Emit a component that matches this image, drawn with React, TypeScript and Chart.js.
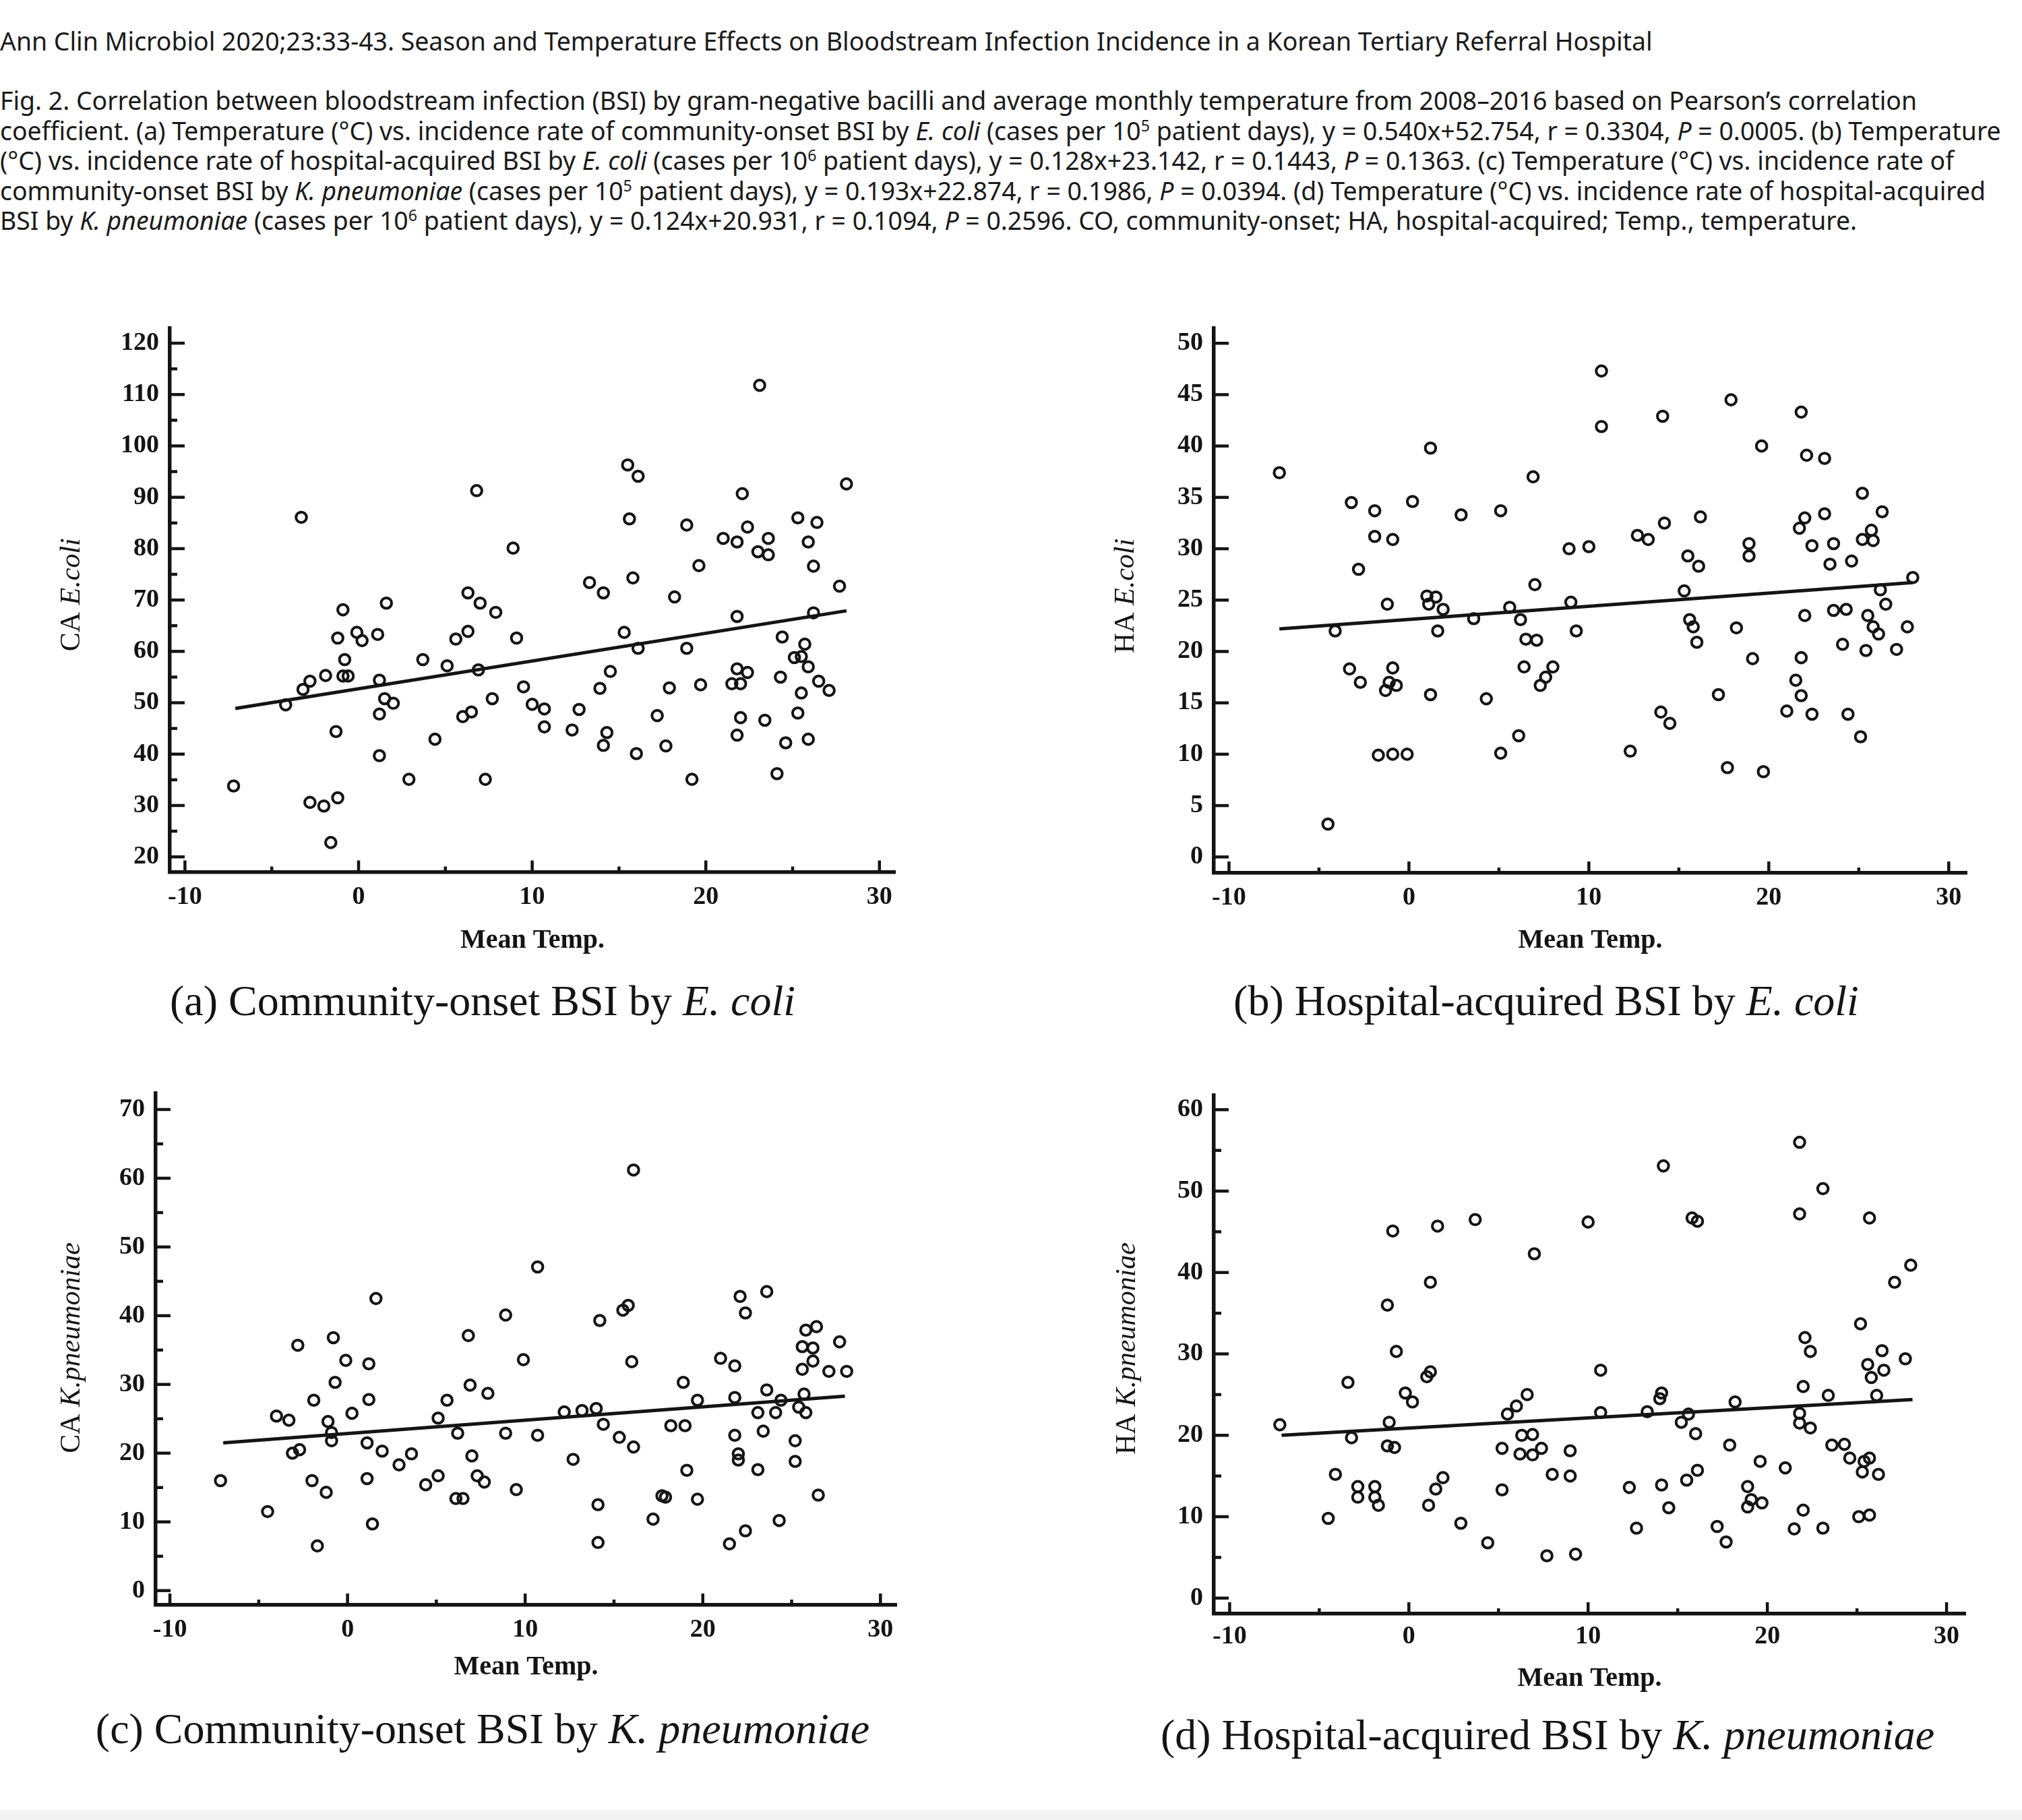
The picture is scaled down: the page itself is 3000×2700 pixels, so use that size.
import React, { useEffect, useRef } from 'react';
import { Chart, registerables } from 'chart.js';

Chart.register(...registerables);

// ---------------- data: (a) community-onset E. coli ----------------
const aTemp = [
  -7.2, -3.3, -4.2, -3.2, -2.8, -1.9, -2.8, -2.0, -1.2, -1.6, -1.3, -1.2, -0.9, -0.8, -0.9, -0.6,
  -0.1, 0.2, 1.1, 1.2, 1.2, 1.5, 2.0, 1.2, 1.6, 2.9, 3.7, 4.4, 5.1, 5.6, 6.0, 6.5, 6.3, 6.3, 7.0,
  6.9, 6.8, 7.3, 7.7, 7.9, 8.9, 9.1, 9.5,
  10.0, 10.7, 10.7, 12.3, 12.7, 13.3, 14.1, 13.9, 14.5, 14.3, 14.1, 15.3, 15.5, 16.1, 15.6, 15.8,
  16.1, 16.0, 17.2, 17.7, 17.9, 18.2, 18.9, 18.9, 19.2, 19.6, 19.7, 21.0, 21.8, 22.1, 22.4, 23.1,
  23.0, 23.6, 23.6, 21.8, 21.8, 22.4, 21.5, 22.0, 22.0, 21.8, 23.4, 24.1, 24.3, 24.4, 24.6, 25.3,
  26.4, 25.9, 26.2, 26.2, 27.7, 28.1, 25.7, 25.5, 25.1, 25.9, 26.5, 27.1, 25.5, 25.3, 25.9,
];
const aRate = [
  33.8, 86.1, 49.6, 52.6, 54.2, 55.3, 30.6, 29.9, 31.5, 22.8, 44.4, 62.6, 68.1, 58.4, 55.2, 55.2,
  63.7, 62.1, 63.3, 54.4, 47.8, 50.8, 49.9, 39.7, 69.4, 35.1, 58.4, 42.9, 57.2, 62.4, 47.3, 48.2, 63.9, 71.4, 69.4,
  56.4, 91.3, 35.1, 50.8, 67.6, 80.1, 62.6, 53.1,
  49.7, 48.8, 45.3, 44.7, 48.7, 73.4, 71.4, 52.8, 56.1, 44.2, 41.7, 63.7, 96.3, 94.1, 85.8, 74.3,
  60.6, 40.1, 47.5, 41.6, 52.9, 70.6, 84.6, 60.6, 35.1, 76.7, 53.5, 82.0, 81.3, 90.7, 84.2, 111.8,
  79.4, 82.0, 78.8, 66.8, 56.6, 55.9, 53.7, 53.7, 47.1, 43.7, 46.6, 36.2, 55.0, 62.8, 42.2, 86.0,
  85.1, 81.3, 76.6, 67.5, 72.7, 92.6, 61.4, 59.0, 58.8, 57.0, 54.2, 52.4, 51.9, 48.0, 42.9,
];
const aFitTemp = [-7.1, 28.1];
const aFitRate = [48.9, 67.9];

// ---------------- data: (b) hospital-acquired E. coli ----------------
const bTemp = [
  -7.2, -4.5, -4.1, -3.2, -3.3, -2.8, -2.7, -1.9, -1.9, -0.9, -1.2, -0.9, -1.3, -1.1, -0.7, -1.7,
  -0.9, -0.1, 0.2, 1.2, 1.0, 1.5, 1.1, 1.9, 1.6, 1.2, 2.9, 3.6, 4.3, 5.1, 5.1, 5.6, 6.1, 6.2, 6.4,
  6.5, 7.1, 6.9, 7.0, 7.3, 7.6, 8.0, 8.9, 9.0, 9.3,
  10.0, 10.7, 10.7, 12.3, 12.7, 13.3, 14.1, 14.2, 14.0, 14.5, 15.3, 15.5, 16.1, 16.2, 15.6, 15.8,
  16.0, 17.2, 17.9, 17.7, 18.2, 18.9, 18.9, 19.1, 19.6, 19.7, 21.0, 21.8, 22.1, 23.1, 21.5, 21.8,
  21.8, 22.0, 22.0, 21.7, 22.4, 23.1, 22.4, 23.4, 23.6, 23.6, 24.3, 24.1, 24.4, 24.6, 25.1, 25.2,
  25.4, 25.2, 25.7, 25.8, 26.3, 25.5, 25.8, 26.1, 26.2, 26.5, 27.1, 27.7, 28.0,
];
const bRate = [
  37.4, 3.2, 22.0, 34.5, 18.3, 28.0, 17.0, 33.7, 31.2, 30.9, 24.6, 18.4, 16.2, 17.0, 16.7, 9.9,
  10.0, 10.0, 34.6, 39.8, 25.4, 25.3, 24.6, 24.1, 22.0, 15.8, 33.3, 23.2, 15.4, 33.7, 10.1, 24.3, 11.8, 23.1, 18.5,
  21.2, 21.1, 37.0, 26.5, 16.7, 17.5, 18.5, 30.0, 24.8, 22.0,
  30.2, 47.3, 41.9, 10.3, 31.3, 30.9, 42.9, 32.5, 14.1, 13.0, 25.9, 29.3, 28.3, 33.1, 23.1, 22.4,
  20.9, 15.8, 44.5, 8.7, 22.3, 30.5, 29.3, 19.3, 40.0, 8.3, 14.2, 43.3, 39.1, 38.8, 17.2, 15.7,
  19.4, 23.5, 33.0, 32.0, 30.3, 33.4, 13.9, 28.5, 30.5, 24.0, 24.1, 20.7, 13.9, 28.8, 11.7, 35.4,
  20.1, 30.9, 31.8, 30.8, 33.6, 23.5, 22.4, 21.7, 26.0, 24.6, 20.2, 22.4, 27.2,
];
const bFitTemp = [-7.2, 28.0];
const bFitRate = [22.2, 26.7];

// ---------------- data: (c) community-onset K. pneumoniae ----------------
const cTemp = [
  -7.15, -4.5, -4.0, -3.3, -2.8, -3.1, -2.7, -1.9, -2.0, -1.7, -1.2, -1.1, -0.9, -0.9, -0.8, -0.7,
  -0.1, 0.25, 1.1, 1.2, 1.2, 1.1, 1.4, 1.6, 1.95, 2.9, 3.6, 4.4, 5.1, 5.1, 5.6, 6.2, 6.1, 6.5, 6.8,
  6.9, 7.0, 7.3, 7.7, 7.9, 8.9, 8.9, 9.5, 9.9,
  10.7, 10.7, 12.2, 12.7, 13.2, 14.0, 14.2, 14.1, 14.1, 14.4, 15.3, 15.5, 15.8, 16.0, 16.1, 16.1,
  17.2, 17.7, 17.9, 18.2, 19.0, 18.9, 19.1, 19.7, 19.7, 21.0, 21.8, 21.8, 21.8, 22.0, 22.0, 22.1,
  22.4, 21.5, 22.4, 23.1, 23.1, 23.4, 23.6, 23.6, 24.1, 24.3, 24.4, 25.2, 25.2, 25.4, 25.7, 25.8,
  25.6, 25.6, 26.2, 26.2, 25.8, 26.4, 26.5, 27.1, 27.7, 28.1,
];
const cRate = [
  16.0, 11.5, 25.4, 24.8, 35.7, 20.0, 20.5, 27.7, 16.0, 6.5, 14.3, 24.6, 23.0, 21.8, 36.8, 30.3,
  33.5, 25.8, 21.5, 33.0, 27.8, 16.3, 9.7, 42.5, 20.3, 18.3, 19.9, 15.4, 16.7, 25.1, 27.7, 22.9, 13.4, 13.4, 37.1,
  29.9, 19.6, 16.7, 15.8, 28.7, 40.1, 22.9, 14.7, 33.6,
  47.1, 22.6, 26.0, 19.1, 26.2, 26.5, 39.3, 12.5, 7.0, 24.2, 22.3, 40.8, 41.5, 33.3, 61.2, 20.9,
  10.4, 13.8, 13.6, 24.0, 24.0, 30.3, 17.5, 27.7, 13.3, 33.8, 32.7, 28.1, 22.6, 19.9, 19.0, 42.8,
  40.4, 6.8, 8.7, 25.9, 17.6, 23.2, 43.5, 29.2, 25.9, 10.2, 27.7, 21.8, 18.8, 26.7, 28.6, 25.9,
  32.2, 35.5, 33.4, 35.3, 37.9, 38.4, 13.9, 31.9, 36.2, 31.9,
];
const cFitTemp = [-7.0, 28.0];
const cFitRate = [21.5, 28.3];

// ---------------- data: (d) hospital-acquired K. pneumoniae ----------------
const dTemp = [
  -7.2, -4.5, -4.1, -3.4, -3.2, -2.85, -2.85, -1.9, -1.9, -1.7, -1.2, -0.9, -0.7, -1.1, -1.2, -0.8,
  -0.2, 0.2, 1.2, 1.6, 1.0, 1.2, 1.1, 1.5, 1.9, 2.9, 3.7, 4.4, 5.2, 5.2, 5.5, 6.0, 6.6, 6.3, 6.9,
  6.2, 6.9, 7.4, 7.0, 7.7, 8.0, 9.0, 9.0, 9.3,
  10.0, 10.7, 10.7, 12.3, 12.7, 13.3, 14.2, 14.1, 14.0, 14.1, 14.5, 15.2, 15.6, 16.0, 15.5, 16.1,
  15.8, 16.1, 17.2, 17.7, 17.9, 18.2, 18.9, 19.1, 18.9, 19.7, 19.6, 21.0, 21.5, 21.8, 21.8, 22.1,
  22.4, 22.0, 21.8, 21.8, 22.4, 22.0, 23.1, 23.1, 23.4, 23.6, 24.3, 24.6, 25.1, 25.2, 25.6, 25.8,
  26.1, 25.7, 26.4, 26.5, 25.7, 25.4, 25.3, 26.2, 25.7, 27.1, 28.0, 27.7,
];
const dRate = [
  21.3, 9.8, 15.2, 26.5, 19.7, 13.7, 12.4, 13.7, 12.4, 11.4, 36.0, 45.1, 30.3, 21.6, 18.7, 18.5,
  25.2, 24.1, 38.8, 45.7, 27.2, 27.8, 11.4, 13.4, 14.8, 9.2, 46.5, 6.8, 18.4, 13.3, 22.6, 23.6, 25.0, 20.0, 20.1,
  17.7, 17.6, 18.4, 42.3, 5.2, 15.2, 15.0, 18.1, 5.4,
  46.2, 28.0, 22.8, 13.6, 8.6, 22.9, 53.1, 25.2, 24.5, 13.9, 11.1, 21.6, 22.6, 20.2, 14.5, 15.7,
  46.7, 46.3, 8.8, 6.9, 18.8, 24.1, 13.7, 12.1, 11.2, 11.7, 16.8, 16.0, 8.5, 56.0, 47.2, 32.0,
  30.3, 26.0, 22.7, 21.5, 20.9, 10.8, 50.3, 8.6, 24.9, 18.8, 18.9, 17.2, 10.0, 33.7, 28.7, 27.1,
  24.9, 46.7, 30.4, 28.0, 17.2, 16.8, 15.5, 15.2, 10.2, 38.8, 40.9, 29.4,
];
const dFitTemp = [-7.1, 28.1];
const dFitRate = [20.0, 24.4];

// ---------------- ticks & labels ----------------
const xTickValues = [-10, -5, 0, 5, 10, 15, 20, 25, 30];
const xTickLabels = [-10, 0, 10, 20, 30];
const aYTickValues = [20, 25, 30, 35, 40, 45, 50, 55, 60, 65, 70, 75, 80, 85, 90, 95, 100, 105, 110, 115, 120];
const aYTickLabels = [20, 30, 40, 50, 60, 70, 80, 90, 100, 110, 120];
const bYTickValues = [0, 5, 10, 15, 20, 25, 30, 35, 40, 45, 50];
const bYTickLabels = [0, 5, 10, 15, 20, 25, 30, 35, 40, 45, 50];
const cYTickValues = [0, 5, 10, 15, 20, 25, 30, 35, 40, 45, 50, 55, 60, 65, 70];
const cYTickLabels = [0, 10, 20, 30, 40, 50, 60, 70];
const dYTickValues = [0, 5, 10, 15, 20, 25, 30, 35, 40, 45, 50, 55, 60];
const dYTickLabels = [0, 10, 20, 30, 40, 50, 60];

const xTitle = 'Mean Temp.';
const aYTitle = ['CA ', 'E.coli'];
const bYTitle = ['HA ', 'E.coli'];
const cYTitle = ['CA ', 'K.pneumoniae'];
const dYTitle = ['HA ', 'K.pneumoniae'];

// ---------------- layout ----------------
const SERIF = '"Liberation Serif", "Times New Roman", serif';
const INK = '#141414';

type Spec = {
  id: string;
  xs: number[]; ys: number[]; fx: number[]; fy: number[];
  yTicks: number[]; yLabels: number[]; yTitle: string[];
  left: number; top: number; w: number; h: number;
  areaLeft: number; areaTop: number; padRight: number; xAxisH: number;
  xMin: number; xMax: number; yMin: number; yMax: number;
  xPad: number; yTitleOffset: number; yTitleShift: number;
};

const SPECS: Spec[] = [
  { id: 'a', xs: aTemp, ys: aRate, fx: aFitTemp, fy: aFitRate, yTicks: aYTickValues, yLabels: aYTickLabels, yTitle: aYTitle,
    left: 0, top: 440, w: 1400, h: 980, areaLeft: 252, areaTop: 47, padRight: 72, xAxisH: 126.5,
    xMin: -10.87, xMax: 30.9, yMin: 17.07, yMax: 122.9, xPad: 15, yTitleOffset: 145, yTitleShift: -8 },
  { id: 'b', xs: bTemp, ys: bRate, fx: bFitTemp, fy: bFitRate, yTicks: bYTickValues, yLabels: bYTickLabels, yTitle: bYTitle,
    left: 1550, top: 440, w: 1440, h: 980, areaLeft: 251, areaTop: 47, padRight: 72, xAxisH: 125,
    xMin: -10.84, xMax: 31.0, yMin: -1.555, yMax: 51.46, xPad: 14, yTitleOffset: 130, yTitleShift: -7 },
  { id: 'c', xs: cTemp, ys: cRate, fx: cFitTemp, fy: cFitRate, yTicks: cYTickValues, yLabels: cYTickLabels, yTitle: cYTitle,
    left: 0, top: 1575, w: 1400, h: 923, areaLeft: 231, areaTop: 47, padRight: 70, xAxisH: 117,
    xMin: -10.8, xMax: 30.9, yMin: -2.09, yMax: 72.35, xPad: 14, yTitleOffset: 124, yTitleShift: -2 },
  { id: 'd', xs: dTemp, ys: dRate, fx: dFitTemp, fy: dFitRate, yTicks: dYTickValues, yLabels: dYTickLabels, yTitle: dYTitle,
    left: 1550, top: 1578, w: 1440, h: 937, areaLeft: 251, areaTop: 47, padRight: 74, xAxisH: 121,
    xMin: -10.88, xMax: 31.05, yMin: -1.92, yMax: 61.76, xPad: 11, yTitleOffset: 128, yTitleShift: -9 },
];

function Panel({ spec }: { spec: Spec }) {
  const ref = useRef<HTMLCanvasElement>(null);
  useEffect(() => {
    const canvas = ref.current;
    if (!canvas) return;
    const points = spec.xs.map((x, i) => ({ x, y: spec.ys[i] }));
    const fit = spec.fx.map((x, i) => ({ x, y: spec.fy[i] }));

    const inwardTicks = {
      id: 'inwardTicks',
      afterDraw(chart: any) {
        const { ctx, chartArea, scales } = chart;
        ctx.save();
        ctx.strokeStyle = INK;
        ctx.lineWidth = 4.5;
        ctx.lineCap = 'butt';
        scales.x.ticks.forEach((t: any) => {
          const px = scales.x.getPixelForValue(t.value);
          const len = xTickLabels.includes(t.value) ? 17 : 8;
          ctx.beginPath();
          ctx.moveTo(px, chartArea.bottom);
          ctx.lineTo(px, chartArea.bottom - len);
          ctx.stroke();
        });
        scales.y.ticks.forEach((t: any) => {
          const py = scales.y.getPixelForValue(t.value);
          const len = spec.yLabels.includes(t.value) ? 22 : 11;
          ctx.beginPath();
          ctx.moveTo(chartArea.left, py);
          ctx.lineTo(chartArea.left + len, py);
          ctx.stroke();
        });
        ctx.restore();
      },
    };

    const yTitlePlugin = {
      id: 'yTitleMixed',
      afterDraw(chart: any) {
        const { ctx, chartArea } = chart;
        const cx = chartArea.left - spec.yTitleOffset;
        const cy = (chartArea.top + chartArea.bottom) / 2 + spec.yTitleShift;
        const f1 = `42px ${SERIF}`;
        const f2 = `italic 42px ${SERIF}`;
        ctx.save();
        ctx.translate(cx, cy);
        ctx.rotate(-Math.PI / 2);
        ctx.fillStyle = INK;
        ctx.textBaseline = 'middle';
        ctx.textAlign = 'left';
        ctx.font = f1;
        const w1 = ctx.measureText(spec.yTitle[0]).width;
        ctx.font = f2;
        const w2 = ctx.measureText(spec.yTitle[1]).width;
        const x0 = -(w1 + w2) / 2;
        ctx.font = f1;
        ctx.fillText(spec.yTitle[0], x0, 0);
        ctx.font = f2;
        ctx.fillText(spec.yTitle[1], x0 + w1, 0);
        ctx.restore();
      },
    };

    const tickFont = { family: SERIF, size: 38, weight: 'bold' as const };

    const chart = new Chart(canvas, {
      type: 'scatter',
      data: {
        datasets: [
          {
            type: 'line',
            data: fit,
            borderColor: INK,
            borderWidth: 5,
            pointRadius: 0,
            fill: false,
            order: 0,
          } as any,
          {
            type: 'scatter',
            data: points,
            pointStyle: 'circle',
            pointRadius: 7.8,
            pointBorderWidth: 4,
            borderWidth: 4,
            borderColor: INK,
            backgroundColor: 'rgba(255,255,255,0)',
            order: 1,
          } as any,
        ],
      },
      options: {
        responsive: false,
        maintainAspectRatio: false,
        animation: false,
        layout: { padding: { left: 0, top: spec.areaTop, right: spec.padRight, bottom: 0 } },
        plugins: { legend: { display: false }, tooltip: { enabled: false }, title: { display: false } },
        scales: {
          x: {
            type: 'linear',
            min: spec.xMin,
            max: spec.xMax,
            afterBuildTicks: (s: any) => { s.ticks = xTickValues.map((v) => ({ value: v })); },
            afterFit: (s: any) => { s.height = spec.xAxisH; },
            grid: { display: true, drawOnChartArea: false, drawTicks: false },
            border: { display: true, width: 5.5, color: INK },
            ticks: {
              autoSkip: false,
              maxRotation: 0,
              padding: spec.xPad,
              color: INK,
              font: tickFont,
              callback: (v: any) => (xTickLabels.includes(Number(v)) ? String(v) : ''),
            },
            title: {
              display: true,
              text: xTitle,
              color: INK,
              font: { family: SERIF, size: 40, weight: 'bold' },
              padding: 0,
            },
          },
          y: {
            type: 'linear',
            min: spec.yMin,
            max: spec.yMax,
            afterBuildTicks: (s: any) => { s.ticks = spec.yTicks.map((v) => ({ value: v })); },
            afterFit: (s: any) => { s.width = spec.areaLeft; },
            grid: { display: true, drawOnChartArea: false, drawTicks: false },
            border: { display: true, width: 5.5, color: INK },
            ticks: {
              autoSkip: false,
              padding: 16,
              color: INK,
              font: tickFont,
              callback: (v: any) => (spec.yLabels.includes(Number(v)) ? String(v) : ''),
            },
          },
        },
      } as any,
      plugins: [inwardTicks, yTitlePlugin],
    });
    return () => chart.destroy();
  }, [spec]);

  return (
    <canvas
      ref={ref}
      width={spec.w}
      height={spec.h}
      style={{ position: 'absolute', left: spec.left, top: spec.top, width: spec.w, height: spec.h }}
    />
  );
}

const captionStyle = (cx: number, cy: number): React.CSSProperties => ({
  position: 'absolute',
  left: cx - 900,
  width: 1800,
  top: cy - 38,
  textAlign: 'center',
  fontFamily: SERIF,
  fontSize: 64,
  lineHeight: '76px',
  color: INK,
  whiteSpace: 'nowrap',
});

const HEAD_FONT = '"Noto Sans", "Open Sans", sans-serif';
const HEAD_SIZE = 37.4;
const sup: React.CSSProperties = { fontSize: '0.62em', lineHeight: 0, verticalAlign: '0.55em' };

export default function App() {
  useEffect(() => {
    document.body.style.margin = '0';
    document.body.style.background = '#ffffff';
  }, []);
  const line: React.CSSProperties = { whiteSpace: 'nowrap', height: 44.5, lineHeight: '44.5px' };
  return (
    <div style={{ position: 'absolute', left: 0, top: 0, width: 3000, height: 2700, background: '#fff', overflow: 'hidden' }}>
      <div style={{ position: 'absolute', left: 0, top: 39, fontFamily: HEAD_FONT, fontSize: HEAD_SIZE, color: '#1a1a1a', ...line }}>
        Ann Clin Microbiol 2020;23:33-43. Season and Temperature Effects on Bloodstream Infection Incidence in a Korean Tertiary Referral Hospital
      </div>
      <div style={{ position: 'absolute', left: 0, top: 127, fontFamily: HEAD_FONT, fontSize: HEAD_SIZE, color: '#1a1a1a' }}>
        <div style={line}>Fig. 2. Correlation between bloodstream infection (BSI) by gram-negative bacilli and average monthly temperature from 2008–2016 based on Pearson’s correlation</div>
        <div style={line}>coefficient. (a) Temperature (°C) vs. incidence rate of community-onset BSI by <i>E. coli</i> (cases per 10<sup style={sup}>5</sup> patient days), y = 0.540x+52.754, r = 0.3304, <i>P</i> = 0.0005. (b) Temperature</div>
        <div style={line}>(°C) vs. incidence rate of hospital-acquired BSI by <i>E. coli</i> (cases per 10<sup style={sup}>6</sup> patient days), y = 0.128x+23.142, r = 0.1443, <i>P</i> = 0.1363. (c) Temperature (°C) vs. incidence rate of</div>
        <div style={line}>community-onset BSI by <i>K. pneumoniae</i> (cases per 10<sup style={sup}>5</sup> patient days), y = 0.193x+22.874, r = 0.1986, <i>P</i> = 0.0394. (d) Temperature (°C) vs. incidence rate of hospital-acquired</div>
        <div style={line}>BSI by <i>K. pneumoniae</i> (cases per 10<sup style={sup}>6</sup> patient days), y = 0.124x+20.931, r = 0.1094, <i>P</i> = 0.2596. CO, community-onset; HA, hospital-acquired; Temp., temperature.</div>
      </div>

      {SPECS.map((s) => (
        <Panel key={s.id} spec={s} />
      ))}

      <div style={captionStyle(716, 1485)}>(a) Community-onset BSI by <i>E. coli</i></div>
      <div style={captionStyle(2294, 1485)}>(b) Hospital-acquired BSI by <i>E. coli</i></div>
      <div style={captionStyle(716, 2565)}>(c) Community-onset BSI by <i>K. pneumoniae</i></div>
      <div style={captionStyle(2296, 2574)}>(d) Hospital-acquired BSI by <i>K. pneumoniae</i></div>

      <div style={{ position: 'absolute', left: 0, top: 2686, width: 3000, height: 14, background: '#f3f3f3' }} />
    </div>
  );
}
